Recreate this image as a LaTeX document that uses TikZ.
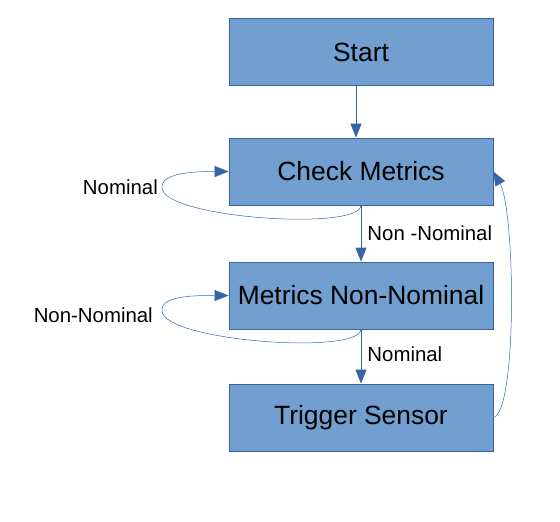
\documentclass[tikz,border=0pt]{standalone}
\usepackage{fontspec}
\setmainfont{Liberation Sans}
\usetikzlibrary{arrows.meta}
\definecolor{boxfill}{HTML}{729FCF}
\definecolor{boxline}{HTML}{3465A4}

\begin{document}
\begin{tikzpicture}[x=1pt, y=-1pt,
    state/.style = {draw=boxline, fill=boxfill, line width=0.8pt,
                    minimum width=264pt, minimum height=67pt,
                    font=\fontsize{26.4}{31}\selectfont},
    flow/.style = {draw=boxline, line width=0.9pt,
                   -{Triangle[length=14pt,width=11pt]}},
    loopflow/.style = {draw=boxline, line width=0.5pt,
                   -{Triangle[length=14pt,width=11pt]}},
    lbl/.style = {font=\fontsize{20.4}{24}\selectfont, inner sep=0pt}]
\useasboundingbox (0,0) rectangle (560,522);
\node[state] (start)   at (361,52)    {Start};
\node[state] (check)   at (361,171.5) {Check Metrics};
\node[state] (nonnom)  at (361,295.5) {Metrics Non-Nominal};
\node[state] (trigger) at (361,417.5) {Trigger Sensor};
% straight moves
\draw[flow] (start.south -| 356,0) -- (check.north -| 356,0);
\draw[flow] (check) -- (nonnom) node[lbl, pos=0.5, right=6pt] {Non -Nominal};
\draw[flow] (nonnom) -- (trigger) node[lbl, pos=0.45, right=6pt] {Nominal};
% staying put
\draw[loopflow] (check.south) .. controls +(-2,26) and +(2,30) .. (162,188)
    .. controls +(-2,-16) and +(-30,0) .. (check.west);
\node[lbl, anchor=east] (nomlbl) at (158,187) {Nominal};
\draw[loopflow] (nonnom.south) .. controls +(-2,26) and +(2,30) .. (162,311)
    .. controls +(-2,-16) and +(-30,0) .. (nonnom.west);
\node[lbl, anchor=east] (nnlbl) at (153,315) {Non-Nominal};
% back to the start
\draw[loopflow] (trigger.east) .. controls +(24,-6) and +(22,40) .. (check.east);
\end{tikzpicture}
\end{document}
